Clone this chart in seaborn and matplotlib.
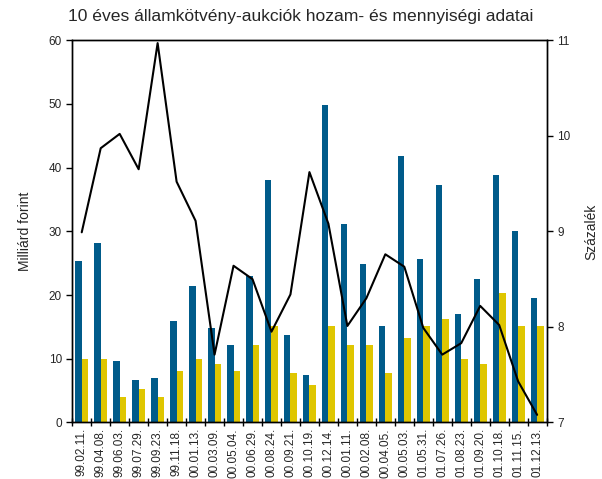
import matplotlib
matplotlib.use('Agg')
import numpy as np
import pandas as pd
import seaborn as sns
import matplotlib.pyplot as plt
from matplotlib.ticker import FixedLocator

# aukciós dátumok
dates = ['99.02.11.', '99.04.08.', '99.06.03.', '99.07.29.', '99.09.23.', '99.11.18.',
         '00.01.13.', '00.03.09.', '00.05.04.', '00.06.29.', '00.08.24.', '00.09.21.',
         '00.10.19.', '00.12.14.', '00.01.11.', '00.02.08.', '00.04.05.', '00.05.03.',
         '01.05.31.', '01.07.26.', '01.08.23.', '01.09.20.', '01.10.18.', '01.11.15.',
         '01.12.13.']

# benyújtott ajánlatok (Mrd Ft)
offered = [25.3, 28.1, 9.7, 6.7, 7.0, 16.0, 21.5, 14.9, 12.2, 23.0, 38.1, 13.8,
           7.5, 49.9, 31.1, 24.8, 15.2, 41.9, 25.6, 37.3, 17.1, 22.6, 38.9, 30.0, 19.6]
# elfogadott mennyiség (Mrd Ft)
accepted = [10.0, 10.0, 4.0, 5.3, 4.0, 8.1, 10.0, 9.2, 8.1, 12.2, 15.2, 7.8,
            5.9, 15.2, 12.2, 12.2, 7.8, 13.3, 15.2, 16.3, 10.0, 9.2, 20.4, 15.2, 15.2]
# átlaghozam (%)
yields = [8.99, 9.87, 10.02, 9.65, 10.97, 9.52, 9.11, 7.71, 8.64, 8.50, 7.95, 8.34,
          9.62, 9.08, 8.01, 8.30, 8.76, 8.63, 7.99, 7.71, 7.83, 8.22, 8.02, 7.43, 7.08]

bars = pd.DataFrame({
    'datum': dates * 2,
    'sorozat': ['Benyújtott'] * len(dates) + ['Elfogadott'] * len(dates),
    'ertek': offered + accepted,
})
line = pd.DataFrame({'pos': np.arange(len(dates)), 'hozam': yields})

sns.set_style('ticks')
plt.rcParams['font.family'] = ['Liberation Sans', 'DejaVu Sans']

fig, ax = plt.subplots(figsize=(6.02, 4.79), dpi=100)
fig.subplots_adjust(left=0.12, right=0.908, top=0.916, bottom=0.118)

sns.barplot(data=bars, x='datum', y='ertek', hue='sorozat', order=dates,
            palette=['#005b8a', '#dfc600'], width=0.68, gap=0, saturation=1,
            linewidth=0, legend=False, ax=ax)
ax.set_xlim(-0.5, len(dates) - 0.5)
ax.set_ylim(0, 60)
ax.set_yticks(range(0, 61, 10))
ax.set_xlabel('')
ax.set_ylabel('Milliárd forint', fontsize=10, labelpad=12)
ax.tick_params(axis='x', length=0, labelrotation=90, labelsize=8.5, pad=4)
ax.tick_params(axis='y', labelsize=8.5, length=4, width=1, color='black')
ax.xaxis.set_minor_locator(FixedLocator(np.arange(-0.5, len(dates), 1)))
ax.tick_params(axis='x', which='minor', length=6, direction='inout', width=1, color='black')

ax2 = ax.twinx()
sns.lineplot(data=line, x='pos', y='hozam', color='black', linewidth=1.5, ax=ax2)
ax2.set_ylim(7, 11)
ax2.set_yticks(range(7, 12))
ax2.set_ylabel('Százalék', fontsize=10, labelpad=10)
ax2.tick_params(axis='y', labelsize=8.5, length=4, width=1, color='black')
ax2.set_xlim(-0.5, len(dates) - 0.5)

for a in (ax, ax2):
    for s in a.spines.values():
        s.set_color('black')
        s.set_linewidth(1)

fig.text(0.113, 0.95, '10 éves államkötvény-aukciók hozam- és mennyiségi adatai',
         fontsize=12.6, ha='left', va='bottom')

fig.savefig('out.png', dpi=100)
